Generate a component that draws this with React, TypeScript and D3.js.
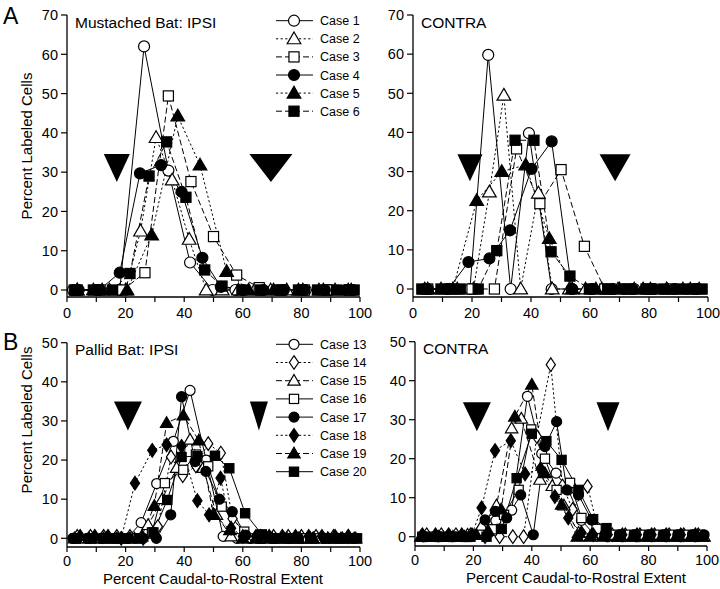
import React from "react";
import * as d3 from "d3";

type Pt = [number, number];

// ---------- DATA ----------
const xTickLabels = [0, 20, 40, 60, 80, 100];
const yTicksTop = [0, 10, 20, 30, 40, 50, 60, 70];
const yTicksBottom = [0, 10, 20, 30, 40, 50];

const mustachedNames = ["Case 1", "Case 2", "Case 3", "Case 4", "Case 5", "Case 6"];
const pallidNames = ["Case 13", "Case 14", "Case 15", "Case 16", "Case 17", "Case 18", "Case 19", "Case 20"];

// Mustached bat IPSI
const mIpsi1: Pt[] = [[2,0],[10,0],[18,0],[26.3,62],[34.6,30.4],[42,7],[49.7,0],[57.5,0],[65.5,0],[73.5,0],[81.5,0],[89.5,0],[97.5,0]];
const mIpsi2: Pt[] = [[3.5,0],[9,0],[14.5,0],[20,0],[25.1,15],[30.4,38.8],[35.9,28],[41.7,12.9],[47.5,0],[53,0],[58.5,0],[64,0],[69.5,0],[75,0],[80.5,0],[86,0],[91.5,0],[97,0]];
const mIpsi3: Pt[] = [[3.5,0],[11.3,0],[19,0],[26.6,4.4],[34.6,49.4],[42.3,27.6],[50,13.6],[57.9,3.8],[65.6,0.6],[73.3,0],[81,0],[88.7,0],[96.4,0]];
const mIpsi4: Pt[] = [[4,0],[11,0],[18,4.4],[24.9,29.7],[32.1,31.8],[39.1,25],[46.2,8.2],[52.5,0.8],[60,0],[67,0],[74,0],[81,0],[88,0],[95,0]];
const mIpsi5: Pt[] = [[3.5,0],[12,0],[20.5,0],[28.9,14],[37.8,44.3],[45.4,31.8],[54.5,4.7],[62,0],[70.5,0],[79,0],[87.5,0],[96,0]];
const mIpsi6: Pt[] = [[2.5,0],[9,0],[15.5,0],[21.5,4.2],[28,29],[34,37.7],[40.6,23.6],[47,5.1],[52.9,1],[59.7,0],[66,0],[72.5,0],[79,0],[85.5,0],[92,0],[98,0]];

// Mustached bat CONTRA
const mContra1: Pt[] = [[5,0],[12,0],[19.3,0],[25.5,59.8],[33.1,0],[39.3,39.8],[47,0],[54,0],[61,0],[68,0],[75,0],[82,0],[89,0],[96,0]];
const mContra2: Pt[] = [[4,0],[9.5,0],[15,0],[20.5,0],[25.9,24.8],[30.8,49.5],[36.5,0],[42.5,24.5],[47.2,0],[53,0],[58.5,0],[64,0],[69.5,0],[75,0],[80.5,0],[86,0],[91.5,0],[97,0]];
const mContra3: Pt[] = [[5,0],[12.5,0],[20,0],[27.6,0],[35.1,35.8],[43,21.8],[50.2,30.5],[58.1,10.9],[65,0],[72.5,0],[80,0],[87.5,0],[95,0]];
const mContra4: Pt[] = [[5,0],[12,0],[18.8,6.9],[25.9,7.8],[32.9,15],[40.2,30.7],[47,37.7],[53.8,0],[60.5,0],[67.5,0],[74.5,0],[81.5,0],[88.5,0],[95.5,0]];
const mContra5: Pt[] = [[5,0],[13.5,0],[21.6,22.6],[30.1,30],[38.2,31.7],[46.2,12.9],[54,0],[62,0],[70,0],[78,0],[86,0],[94,0]];
const mContra6: Pt[] = [[3,0],[9.5,0],[16,0],[22.1,0],[28.4,9.8],[34.6,38],[41,38],[46.8,9.5],[53.2,3.3],[59.8,0],[66,0],[72.5,0],[79,0],[85,0],[91.5,0],[98,0]];

// Pallid bat IPSI
const pIpsi13: Pt[] = [[2.5,0],[7,0],[11.5,0],[16,0],[20.5,0],[25.3,4],[30.6,14],[36.3,24.8],[42,37.8],[47.5,20],[53.3,0.5],[58,0],[62.5,0],[67,0],[71.5,0],[76,0],[80.5,0],[85,0],[89.5,0],[94,0],[98.5,0]];
const pIpsi14: Pt[] = [[3.5,0.5],[8,0.5],[12.5,0.5],[17,0.5],[21.5,0.5],[26,0],[31,3],[35.5,20.8],[39.5,16],[44,18.5],[48.2,24.2],[52.5,21.8],[56.5,5],[61,1],[66,0.5],[70.5,0.5],[75.5,0.5],[80,0.5],[85,0.5],[91,0.5],[96,0.5]];
const pIpsi15: Pt[] = [[4,0],[9,0],[13.5,0],[18.5,0],[23,0],[27.7,3.4],[32.5,10],[37.4,18],[42,25.2],[46.5,18],[51,6],[56,0.5],[61,0],[65.5,0],[70,0],[75,0],[79.5,0],[84,0],[89,0],[93.5,0],[98,0]];
const pIpsi16: Pt[] = [[3,0],[8,0],[13,0],[18,0],[24,0],[29,1.5],[33.4,14.1],[39.7,17.5],[44,21.4],[48.2,18.4],[52.8,8.1],[60.5,1.7],[66,0],[71,0],[76,0],[81,0],[86,0],[91,0],[96,0]];
const pIpsi17: Pt[] = [[2,0],[7,0],[12,0],[16.5,0],[21,0],[26,0],[30.5,0],[35.4,6],[39.1,36.2],[43.7,19.6],[47.4,17.1],[52,10],[56.4,6.8],[61,0.8],[65.5,0],[70,0],[74.5,0],[79,0],[83.5,0],[88,0],[92.5,0],[97.5,0]];
const pIpsi18: Pt[] = [[4.5,0.5],[9.5,0.5],[14,0.5],[18.5,0],[23.2,14.1],[29.1,22.5],[34,23.9],[39.1,23.5],[44.5,9.6],[48.5,6],[52.4,15.4],[56,2.6],[60,0.5],[64.5,0.5],[69,0.5],[73.5,0.5],[78,0.5],[82.5,0.5],[87,0.5],[91.5,0.5],[96,0.5]];
const pIpsi19: Pt[] = [[2.5,0],[7.5,0],[12.5,0],[17,0],[21.5,0],[25.5,0.5],[29.8,8.3],[34,29.5],[39.7,31.4],[45,25],[50,6.2],[55.6,2.1],[60,0],[64.5,0],[69,0],[74,0],[79,0],[84,0],[89,0],[94,0],[98.5,0]];
const pIpsi20: Pt[] = [[3,0],[8.5,0],[14,0],[19,0],[24.5,0],[29.5,1.5],[34.2,9.8],[39.1,20.8],[44.5,21],[50.5,21.1],[55.4,17.9],[60.8,6.4],[66.5,1],[72,0],[77.5,0],[83,0],[88.5,0],[94,0],[99,0]];

// Pallid bat CONTRA
const pContra13: Pt[] = [[3,0],[8,0],[13,0],[18,0],[22.5,1],[27.7,4.1],[33.1,6.8],[38.5,36],[43.4,21.3],[48.3,16.3],[52.5,12],[57,4.2],[61.5,0.5],[66,0],[71,0],[76,0],[81,0],[86,0],[91,0],[96,0]];
const pContra14: Pt[] = [[4,0.5],[9,0.5],[14,0.5],[19,0.5],[24,0],[29,0],[33.5,0],[37.2,0],[41.7,25.7],[46.5,44.1],[50.5,13],[54,7],[59.1,12.9],[63,1],[67.5,0.5],[72,0.5],[77,0.5],[82,0.5],[87,0.5],[92,0.5],[97,0.5]];
const pContra15: Pt[] = [[3,0],[8,0],[13,0],[18,0.5],[22.8,2.7],[27.9,8],[33.1,27.8],[36.4,30.3],[42.8,14.6],[47,13],[51,8],[56,1],[60.5,0.5],[65,0.5],[70,0],[75,0],[80,0],[85,0],[90,0],[95,0],[99,0]];
const pContra16: Pt[] = [[2.5,0],[7.5,0],[12.5,0],[17.5,0],[22,0.5],[26.3,1.9],[30.5,5.6],[35.5,12],[39.8,27.5],[44.5,20],[48.5,12],[53.1,13.8],[57,4.8],[62.2,2],[67,0.5],[72,0.5],[77,0.5],[82,0.5],[87,0.5],[92,0.5],[97,0.5]];
const pContra17: Pt[] = [[3,0],[8,0],[12.5,0],[17,0],[20,0.5],[24,4.3],[27.5,6.5],[31.4,4.8],[36.2,10.7],[40.5,0.5],[44.5,23.1],[48.5,29.5],[52,12],[56,10.7],[60.5,4.3],[65,0.5],[70,0.5],[75,0.5],[80,0.5],[85,0.5],[90,0.5],[95,0.5],[99,0.5]];
const pContra18: Pt[] = [[2.5,0.5],[7,0.5],[11.5,0.5],[16,0.5],[19.5,0.5],[22.8,7.4],[27.4,22.1],[32.8,24.6],[37.7,16.1],[43,17.4],[47.9,10.3],[52.5,4.8],[57,1],[61,0.5],[66,0.5],[71,0.5],[76,0.5],[81,0.5],[86,0.5],[91,0.5],[96,0.5]];
const pContra19: Pt[] = [[2,0],[7,0],[12,0],[17,0],[21,0.5],[25,1.5],[29.5,7],[34.2,30.8],[40,39],[44.5,16.3],[50.2,8.2],[55.6,0],[60,0],[64.5,0],[69.5,0],[74.5,0],[79.5,0],[84.5,0],[89.5,0],[94.5,0],[98.5,0]];
const pContra20: Pt[] = [[4,0],[9,0],[14,0],[19,0],[24.5,0],[29.7,2],[34.8,15],[40,26.4],[45,24.5],[50.2,19.7],[56,12],[61,4.5],[65.6,2.2],[70.5,0.5],[75.5,0.5],[80.5,0.5],[85.5,0.5],[90.5,0.5],[95.5,0.5]];

// boundary arrowheads (x position of tip, % extent)
const arrowsMIpsi = [17, 69.6];
const arrowsMContra = [19.3, 68.5];
const arrowsPIpsi = [20.8, 65.5];
const arrowsPContra = [21.2, 66.1];

// ---------- STYLES ----------
type MType = "circle" | "triangle" | "square" | "diamond";
interface SStyle { m: MType; filled: boolean; dash: string; }
const SOLID = "";
const DOT = "2.2,2.4";
const DASH = "6,3";
const mustachedStyles: SStyle[] = [
  { m: "circle", filled: false, dash: SOLID },
  { m: "triangle", filled: false, dash: DOT },
  { m: "square", filled: false, dash: DASH },
  { m: "circle", filled: true, dash: SOLID },
  { m: "triangle", filled: true, dash: DOT },
  { m: "square", filled: true, dash: DASH },
];
const pallidStyles: SStyle[] = [
  { m: "circle", filled: false, dash: SOLID },
  { m: "diamond", filled: false, dash: DOT },
  { m: "triangle", filled: false, dash: DASH },
  { m: "square", filled: false, dash: SOLID },
  { m: "circle", filled: true, dash: SOLID },
  { m: "diamond", filled: true, dash: DOT },
  { m: "triangle", filled: true, dash: DASH },
  { m: "square", filled: true, dash: SOLID },
];

const FONT = "'Liberation Sans', Arial, Helvetica, sans-serif";

function Marker({ type, filled, x, y, s }: { type: MType; filled: boolean; x: number; y: number; s: number }) {
  const common = { fill: filled ? "#000" : "#fff", stroke: "#000", strokeWidth: 1.2 };
  if (type === "circle") return <circle cx={x} cy={y} r={s * 0.5} {...common} />;
  if (type === "square") {
    const h = s * 0.46;
    return <rect x={x - h} y={y - h} width={2 * h} height={2 * h} {...common} />;
  }
  if (type === "triangle") {
    const w = s * 0.62;
    const d = `M${x},${y - s * 0.62}L${x + w},${y + s * 0.45}L${x - w},${y + s * 0.45}Z`;
    return <path d={d} {...common} strokeLinejoin="miter" />;
  }
  const d = `M${x},${y - s * 0.68}L${x + s * 0.46},${y}L${x},${y + s * 0.68}L${x - s * 0.46},${y}Z`;
  return <path d={d} {...common} />;
}

interface PanelCfg {
  x0: number; x1: number; yTop: number; y0: number; yMax: number; axisY: number;
  yTicks: number[]; series: Pt[][]; styles: SStyle[]; arrows: number[];
  arrowW: number[]; arrowTop: number; arrowH: number; title: string; ms: number;
  xTitleX: number | null; xLabelOff: number;
}

function Panel({ c }: { c: PanelCfg }) {
  const xs = d3.scaleLinear().domain([0, 100]).range([c.x0, c.x1]);
  const ys = d3.scaleLinear().domain([0, c.yMax]).range([c.y0, c.yTop]);
  const line = d3.line<Pt>().x((d) => xs(d[0])).y((d) => ys(d[1]));
  const xMinor = d3.range(0, 101, 10);
  return (
    <g>
      <line x1={c.x0} x2={c.x0} y1={ys(c.yMax)} y2={c.axisY} stroke="#000" strokeWidth={1.3} />
      <line x1={c.x0} x2={c.x1} y1={c.axisY} y2={c.axisY} stroke="#000" strokeWidth={1.3} />
      {c.yTicks.map((t) => (
        <g key={"y" + t}>
          <line x1={c.x0 - 6} x2={c.x0} y1={ys(t)} y2={ys(t)} stroke="#000" strokeWidth={1.2} />
          <text x={c.x0 - 9} y={ys(t)} dy="0.36em" textAnchor="end" fontSize={14.5} fontFamily={FONT}>{t}</text>
        </g>
      ))}
      {xMinor.map((t) => (
        <line key={"xt" + t} x1={xs(t)} x2={xs(t)} y1={c.axisY} y2={c.axisY + 5} stroke="#000" strokeWidth={1.2} />
      ))}
      {xTickLabels.map((t) => (
        <text key={"xl" + t} x={xs(t)} y={c.axisY + c.xLabelOff} dy="0.36em" textAnchor="middle" fontSize={14.5} fontFamily={FONT}>{t}</text>
      ))}
      {c.xTitleX !== null && (
        <text x={c.xTitleX} y={c.axisY + 32} dy="0.36em" textAnchor="middle" fontSize={15} fontFamily={FONT}>
          Percent Caudal-to-Rostral Extent
        </text>
      )}
      <text x={c.x0 + 8} y={ys(c.yMax) + 7} dy="0.36em" fontSize={15.5} fontFamily={FONT}>{c.title}</text>
      {c.arrows.map((a, i) => {
        const tx = xs(a);
        const top = ys(c.arrowTop);
        const w = c.arrowW[i] / 2;
        return <path key={"ar" + i} d={`M${tx - w},${top}L${tx + w},${top}L${tx},${top + c.arrowH}Z`} fill="#000" />;
      })}
      {c.series.map((s, i) => (
        <path key={"l" + i} d={line(s) || ""} fill="none" stroke="#000" strokeWidth={1}
          strokeDasharray={c.styles[i].dash || undefined} />
      ))}
      {c.series.map((s, i) => (
        <g key={"m" + i}>
          {s.map((p, j) => (
            <Marker key={j} type={c.styles[i].m} filled={c.styles[i].filled} x={xs(p[0])} y={ys(p[1])} s={c.ms} />
          ))}
        </g>
      ))}
    </g>
  );
}

function Legend({ names, styles, y0, dy, ms }: { names: string[]; styles: SStyle[]; y0: number; dy: number; ms: number }) {
  return (
    <g>
      {names.map((n, i) => {
        const y = y0 + i * dy;
        const st = styles[i];
        return (
          <g key={n}>
            <line x1={276} x2={313} y1={y} y2={y} stroke="#000" strokeWidth={1} strokeDasharray={st.dash || undefined} />
            <Marker type={st.m} filled={st.filled} x={294} y={y} s={ms} />
            <text x={320} y={y} dy="0.36em" fontSize={12.5} fontFamily={FONT}>{n}</text>
          </g>
        );
      })}
    </g>
  );
}

export default function App() {
  const tl: PanelCfg = {
    x0: 67, x1: 360, yTop: 15, y0: 290, yMax: 70, axisY: 297, yTicks: yTicksTop,
    series: [mIpsi1, mIpsi2, mIpsi3, mIpsi4, mIpsi5, mIpsi6], styles: mustachedStyles,
    arrows: arrowsMIpsi, arrowW: [26, 43], arrowTop: 34.6, arrowH: 28, title: "Mustached Bat: IPSI", ms: 11,
    xTitleX: null, xLabelOff: 16,
  };
  const tr: PanelCfg = {
    x0: 413, x1: 708, yTop: 15, y0: 289, yMax: 70, axisY: 297, yTicks: yTicksTop,
    series: [mContra1, mContra2, mContra3, mContra4, mContra5, mContra6], styles: mustachedStyles,
    arrows: arrowsMContra, arrowW: [25, 31], arrowTop: 34.4, arrowH: 27, title: "CONTRA", ms: 11,
    xTitleX: null, xLabelOff: 16,
  };
  const bl: PanelCfg = {
    x0: 67, x1: 360, yTop: 342.7, y0: 538.3, yMax: 50, axisY: 547, yTicks: yTicksBottom,
    series: [pIpsi13, pIpsi14, pIpsi15, pIpsi16, pIpsi17, pIpsi18, pIpsi19, pIpsi20], styles: pallidStyles,
    arrows: arrowsPIpsi, arrowW: [28, 18], arrowTop: 35, arrowH: 29, title: "Pallid Bat: IPSI", ms: 10,
    xTitleX: 213, xLabelOff: 14,
  };
  const br: PanelCfg = {
    x0: 415, x1: 707, yTop: 341.7, y0: 536.7, yMax: 50, axisY: 546, yTicks: yTicksBottom,
    series: [pContra13, pContra14, pContra15, pContra16, pContra17, pContra18, pContra19, pContra20], styles: pallidStyles,
    arrows: arrowsPContra, arrowW: [28, 23], arrowTop: 34.5, arrowH: 29, title: "CONTRA", ms: 10,
    xTitleX: 576, xLabelOff: 14,
  };
  return (
    <svg width={720} height={589} style={{ position: "absolute", left: 0, top: 0, background: "#fff" }}>
      <rect width={720} height={589} fill="#fff" />
      <text x={3} y={16} dy="0.36em" fontSize={23} fontFamily={FONT}>A</text>
      <text x={3} y={342} dy="0.36em" fontSize={23} fontFamily={FONT}>B</text>
      <text transform="translate(27,146) rotate(-90)" textAnchor="middle" dy="0.36em" fontSize={15} fontFamily={FONT}>Percent Labeled Cells</text>
      <text transform="translate(27,420) rotate(-90)" textAnchor="middle" dy="0.36em" fontSize={15} fontFamily={FONT}>Percent Labeled Cells</text>
      <Panel c={tl} />
      <Panel c={tr} />
      <Panel c={bl} />
      <Panel c={br} />
      <Legend names={mustachedNames} styles={mustachedStyles} y0={20.7} dy={18.1} ms={11} />
      <Legend names={pallidNames} styles={pallidStyles} y0={344.3} dy={18.2} ms={10} />
    </svg>
  );
}
